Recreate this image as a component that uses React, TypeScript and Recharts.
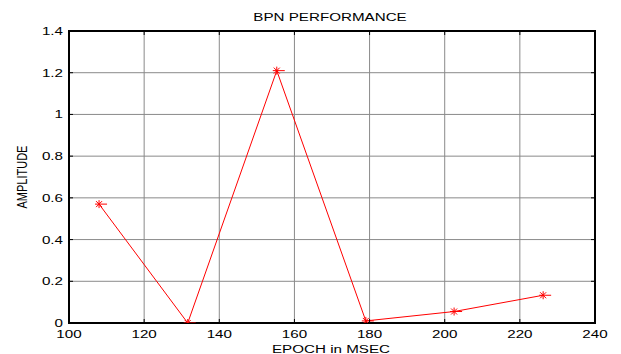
import React from "react";
import { LineChart, Line, XAxis, YAxis, CartesianGrid, ReferenceArea } from "recharts";

const epochs = [108, 131.6, 155.3, 179, 202.5, 226.2];
const amplitude = [0.57, 0, 1.21, 0.01, 0.055, 0.133];
const xTicks = [100, 120, 140, 160, 180, 200, 220, 240];
const yTicks = [0, 0.2, 0.4, 0.6, 0.8, 1, 1.2, 1.4];
const yTickLabels = ["0", "0.2", "0.4", "0.6", "0.8", "1", "1.2", "1.4"];
const title = "BPN PERFORMANCE";
const xLabel = "EPOCH in MSEC";
const yLabel = "AMPLITUDE";

const data = epochs.map((e, i) => ({ x: e, y: amplitude[i] }));

const W = 621;
const H = 354;
const TOP = 31;
const BOTTOM = 323;
const LEFT = 69;
const RIGHT = 595;
const SX = 1.38;
const FONT = "'Liberation Sans', Arial, sans-serif";

const XTick = (props: any) => {
  const { x, payload } = props;
  return (
    <g>
      <line x1={x} x2={x} y1={BOTTOM} y2={BOTTOM - 4} stroke="#000" strokeWidth={1} />
      <line x1={x} x2={x} y1={TOP} y2={TOP + 4} stroke="#000" strokeWidth={1} />
      <text
        transform={`translate(${x},338) scale(${SX},1)`}
        textAnchor="middle"
        fontSize={11}
        fontFamily={FONT}
        fill="#000"
      >
        {String(payload.value)}
      </text>
    </g>
  );
};

const YTick = (props: any) => {
  const { y, payload } = props;
  const idx = yTicks.indexOf(payload.value);
  const label = idx >= 0 ? yTickLabels[idx] : String(payload.value);
  return (
    <g>
      <line x1={LEFT} x2={LEFT + 4} y1={y} y2={y} stroke="#000" strokeWidth={1} />
      <line x1={RIGHT} x2={RIGHT - 4} y1={y} y2={y} stroke="#000" strokeWidth={1} />
      <text
        transform={`translate(63,${y + 4}) scale(${SX},1)`}
        textAnchor="end"
        fontSize={11}
        fontFamily={FONT}
        fill="#000"
      >
        {label}
      </text>
    </g>
  );
};

const StarDot = (props: any) => {
  const { cx, cy, index } = props;
  if (cx == null || cy == null) return null;
  return (
    <g key={`d${index}`} stroke="#ff0000" strokeWidth={1}>
      <line x1={cx - 4} x2={cx + 8} y1={cy} y2={cy} />
      <line x1={cx} x2={cx} y1={cy - 4} y2={cy + 4} />
      <line x1={cx - 3} x2={cx + 3} y1={cy - 3} y2={cy + 3} />
      <line x1={cx - 3} x2={cx + 3} y1={cy + 3} y2={cy - 3} />
    </g>
  );
};

export default function App() {
  return (
    <div style={{ position: "absolute", left: 0, top: 0, width: W, height: H, background: "#fff" }}>
      <LineChart
        width={W}
        height={H}
        data={data}
        margin={{ top: TOP, right: W - RIGHT, bottom: 0, left: 0 }}
      >
        <CartesianGrid stroke="#8a8a8a" strokeWidth={1} />
        <XAxis
          dataKey="x"
          type="number"
          domain={[100, 240]}
          ticks={xTicks}
          height={H - BOTTOM}
          axisLine={false}
          tickLine={false}
          tick={<XTick />}
          interval={0}
          allowDataOverflow
        />
        <YAxis
          type="number"
          domain={[0, 1.4]}
          ticks={yTicks}
          width={LEFT}
          axisLine={false}
          tickLine={false}
          tick={<YTick />}
          interval={0}
          allowDataOverflow
        />
        <ReferenceArea x1={100} x2={240} y1={0} y2={1.4} fill="none" fillOpacity={0} stroke="#000" strokeWidth={2} />
        <Line
          dataKey="y"
          stroke="#ff0000"
          strokeWidth={1}
          dot={StarDot}
          activeDot={false}
          isAnimationActive={false}
        />
      </LineChart>
      <svg
        width={W}
        height={H}
        style={{ position: "absolute", left: 0, top: 0, pointerEvents: "none" }}
      >
        <text
          transform={`translate(330,21) scale(${SX},1)`}
          textAnchor="middle"
          fontSize={11}
          fontFamily={FONT}
          fill="#000"
        >
          {title}
        </text>
        <text
          transform={`translate(331,353) scale(${SX},1)`}
          textAnchor="middle"
          fontSize={11}
          fontFamily={FONT}
          fill="#000"
        >
          {xLabel}
        </text>
        <text
          transform={`translate(27,177) rotate(-90) scale(1,${SX})`}
          textAnchor="middle"
          fontSize={11}
          fontFamily={FONT}
          fill="#000"
        >
          {yLabel}
        </text>
      </svg>
    </div>
  );
}
